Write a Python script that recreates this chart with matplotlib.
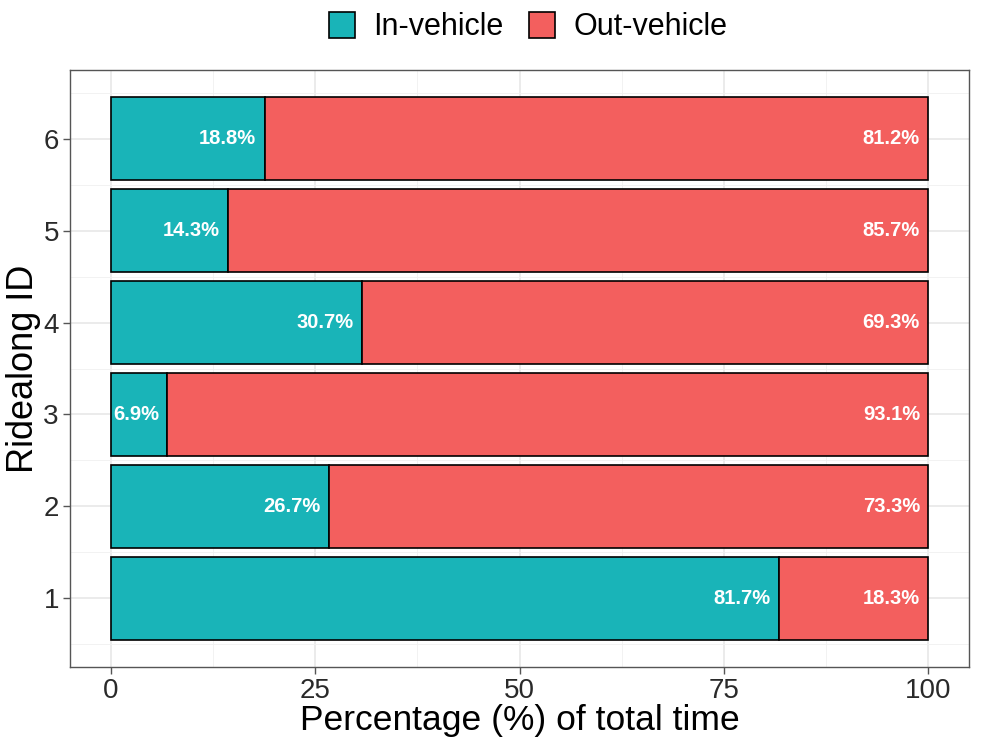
import matplotlib.pyplot as plt
import numpy as np

plt.rcParams['font.family'] = ['Liberation Sans', 'DejaVu Sans']

ride_ids = [1, 2, 3, 4, 5, 6]
in_vehicle = [81.7, 26.7, 6.9, 30.7, 14.3, 18.8]
out_vehicle = [18.3, 73.3, 93.1, 69.3, 85.7, 81.2]
x_ticks = [0, 25, 50, 75, 100]

teal = '#19B4B8'
red = '#F35F5E'

fig = plt.figure(figsize=(9.81, 7.52), dpi=100)
ax = fig.add_axes([70 / 981, 1 - 667 / 752, 899 / 981, 597 / 752])

ids = np.array(ride_ids)
inv = np.array(in_vehicle)
outv = np.array(out_vehicle)

b1 = ax.barh(ids, inv, height=0.9, color=teal, edgecolor='black', linewidth=1.2,
             label='In-vehicle', zorder=3)
b2 = ax.barh(ids, outv, left=inv, height=0.9, color=red, edgecolor='black', linewidth=1.2,
             label='Out-vehicle', zorder=3)

# labels at the right end of each segment
for i, v, o in zip(ids, inv, outv):
    ax.text(v - 1, i, f'{v:.1f}%', ha='right', va='center', color='white',
            fontsize=14.5, fontweight='bold', zorder=4)
    ax.text(v + o - 1, i, f'{o:.1f}%', ha='right', va='center', color='white',
            fontsize=14.5, fontweight='bold', zorder=4)

ax.set_xlim(-5, 105)
ax.set_ylim(0.255, 6.745)
ax.set_xticks(x_ticks)
ax.set_xticks([12.5, 37.5, 62.5, 87.5], minor=True)
ax.set_yticks(ride_ids)
ax.set_yticks([0.5, 1.5, 2.5, 3.5, 4.5, 5.5, 6.5], minor=True)
ax.grid(True, which='major', color='#E5E5E5', linewidth=1.1, zorder=0)
ax.grid(True, which='minor', color='#F0F0F0', linewidth=0.6, zorder=0)
ax.set_axisbelow(True)

for s in ax.spines.values():
    s.set_color('#555555')
    s.set_linewidth(1.0)

ax.tick_params(axis='both', which='major', labelsize=20, colors='#2A2A2A',
               length=5, width=1, color='#555555', pad=3)
ax.tick_params(axis='both', which='minor', length=0)

ax.set_xlabel('Percentage (%) of total time', fontsize=25.5, labelpad=0)
ax.set_ylabel('Ridealong ID', fontsize=26, labelpad=2)

fig.legend(handles=[b1, b2], loc='center', bbox_to_anchor=(528 / 981, 1 - 27 / 752), ncol=2,
           frameon=False, fontsize=22, handlelength=0.85, handleheight=0.92,
           handletextpad=0.6, columnspacing=0.85)

fig.savefig('out.png', dpi=100)
